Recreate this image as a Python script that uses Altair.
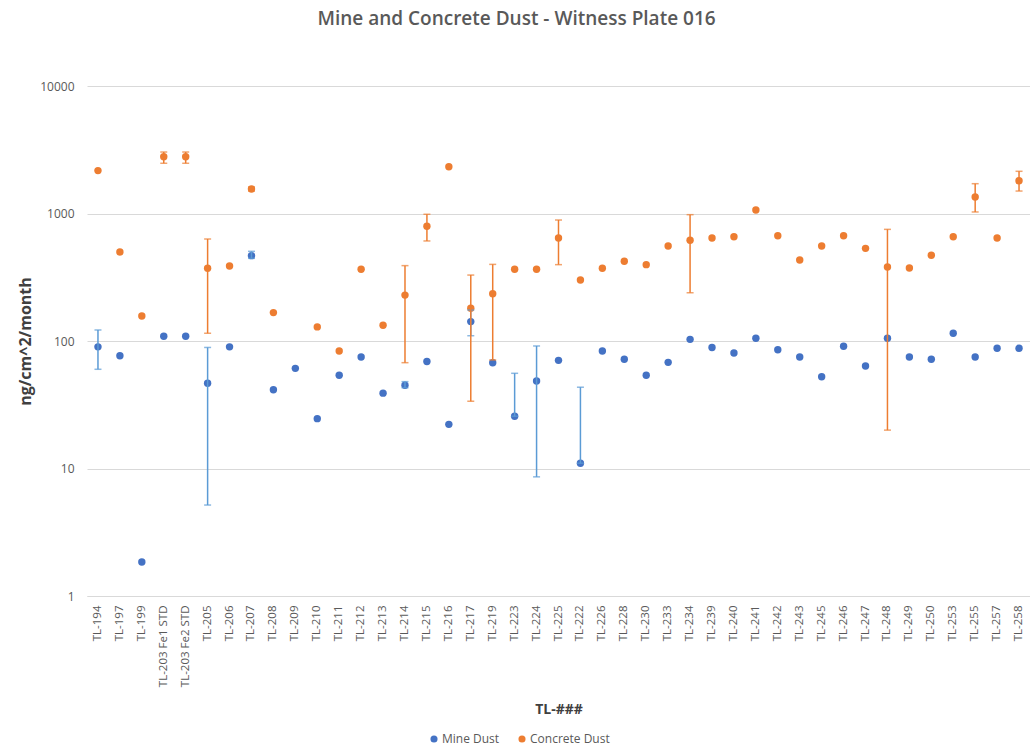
import altair as alt
import pandas as pd

categories = ["TL-194", "TL-197", "TL-199", "TL-203 Fe1 STD", "TL-203 Fe2 STD", "TL-205", "TL-206",
              "TL-207", "TL-208", "TL-209", "TL-210", "TL-211", "TL-212", "TL-213", "TL-214", "TL-215",
              "TL-216", "TL-217", "TL-219", "TL-223", "TL-224", "TL-225", "TL-222", "TL-226", "TL-228",
              "TL-230", "TL-233", "TL-234", "TL-239", "TL-240", "TL-241", "TL-242", "TL-243", "TL-245",
              "TL-246", "TL-247", "TL-248", "TL-249", "TL-250", "TL-253", "TL-255", "TL-257", "TL-258"]

mine = [90, 76.7, 1.85, 109, 109, 46.6, 90, 467, 41.5, 61, 24.6, 53.8, 75, 39, 45, 69, 22.2, 142,
        67.6, 25.7, 48.6, 70.5, 11.0, 83.5, 72, 53.8, 68, 103, 89, 80.5, 105, 85.5, 75, 52.5, 91,
        63.7, 105, 75, 72, 115, 75, 87.6, 87.6]

concrete = [2170, 499, 157, 2790, 2790, 372, 387, 1556, 167, None, 129, 83.5, 365, 133, 229, 794,
            2328, 181, 235, 365, 365, 643, 301, 372, 422, 397, 556, 617, 643, 658, 1065, 670, 432,
            556, 670, 533, 381, 374, 470, 658, 1346, 643, 1807]

# error bar ends: category -> (low, high)
mine_err_cat = ["TL-194", "TL-205", "TL-207", "TL-214", "TL-217", "TL-223", "TL-224", "TL-222"]
mine_err_lo = [60, 5.17, 445, 43, 110, 25.7, 8.6, 11.0]
mine_err_hi = [122, 89, 505, 48, 175, 55.8, 91.4, 43.4]

conc_err_cat = ["TL-203 Fe1 STD", "TL-203 Fe2 STD", "TL-205", "TL-207", "TL-214", "TL-215", "TL-217",
                "TL-219", "TL-225", "TL-234", "TL-248", "TL-255", "TL-258"]
conc_err_lo = [2477, 2477, 115, 1500, 67.6, 609, 33.7, 71, 397, 239, 20, 1028, 1500]
conc_err_hi = [3035, 3035, 631, 1615, 390, 986, 329, 399, 889, 979, 751, 1713, 2143]

series_names = ["Mine Dust", "Concrete Dust"]
series_colors = ["#4472C4", "#ED7D31"]

pts = pd.concat([
    pd.DataFrame({"cat": categories, "value": mine, "series": "Mine Dust"}),
    pd.DataFrame({"cat": categories, "value": concrete, "series": "Concrete Dust"}),
]).dropna()

err_mine = pd.DataFrame({"cat": mine_err_cat, "lo": mine_err_lo, "hi": mine_err_hi})
err_conc = pd.DataFrame({"cat": conc_err_cat, "lo": conc_err_lo, "hi": conc_err_hi})

FONT = "Open Sans"
LABEL_COLOR = "#595959"
GRID = "#D9D9D9"

xenc = alt.X("cat:N", sort=categories, scale=alt.Scale(paddingInner=0, paddingOuter=0),
             axis=alt.Axis(title="TL-###", labelAngle=270, labelFontSize=11.5, labelColor=LABEL_COLOR,
                           labelFont=FONT, ticks=False, grid=False, domainColor=GRID, labelPadding=9,
                           titleFont=FONT, titleFontSize=14, titleFontWeight="bold",
                           titleColor="#404040", titlePadding=16))
yscale = alt.Scale(type="log", domain=[1, 10000], nice=False)
yaxis = alt.Axis(title="ng/cm^2/month", values=[1, 10, 100, 1000, 10000], format="d",
                 labelFontSize=12, labelColor=LABEL_COLOR, labelFont=FONT, ticks=False,
                 domain=False, gridColor=GRID, labelPadding=13, titleFont=FONT, titleFontSize=16,
                 titleFontWeight="bold", titleColor="#404040", titlePadding=6)


def err_layers(df, color):
    base = alt.Chart(df)
    rule = base.mark_rule(color=color, strokeWidth=1.5).encode(
        x=alt.X("cat:N", sort=categories), y=alt.Y("lo:Q", scale=yscale), y2="hi:Q")
    cap_lo = base.mark_tick(color=color, size=7, thickness=1.5).encode(
        x=alt.X("cat:N", sort=categories), y=alt.Y("lo:Q", scale=yscale))
    cap_hi = base.mark_tick(color=color, size=7, thickness=1.5).encode(
        x=alt.X("cat:N", sort=categories), y=alt.Y("hi:Q", scale=yscale))
    return rule + cap_lo + cap_hi


points = alt.Chart(pts).mark_circle(size=55, opacity=1).encode(
    x=xenc,
    y=alt.Y("value:Q", scale=yscale, axis=yaxis),
    color=alt.Color("series:N", scale=alt.Scale(domain=series_names, range=series_colors),
                    legend=alt.Legend(title=None, orient="none", direction="horizontal",
                                      legendX=341, legendY=647, symbolType="circle", symbolSize=50,
                                      labelFont=FONT, labelFontSize=12, labelColor=LABEL_COLOR,
                                      labelOffset=2, columnPadding=16, symbolOffset=0)),
)

chart = alt.layer(
    points,
    err_layers(err_mine, "#5B9BD5"),
    err_layers(err_conc, "#ED7D31"),
).properties(
    width=943,
    height=510,
    background="white",
    autosize=alt.AutoSizeParams(type="none"),
    padding={"left": 87, "top": 86, "right": 0, "bottom": 150},
    title=alt.TitleParams("Mine and Concrete Dust - Witness Plate 016", font=FONT, fontSize=19,
                          fontWeight=600, color=LABEL_COLOR, anchor="middle", dx=-42, offset=51),
).configure_view(stroke=None).configure_axisY(domain=False).configure_axisX(grid=False)

chart.save("out.html", embed_options={"renderer": "svg", "actions": False})
